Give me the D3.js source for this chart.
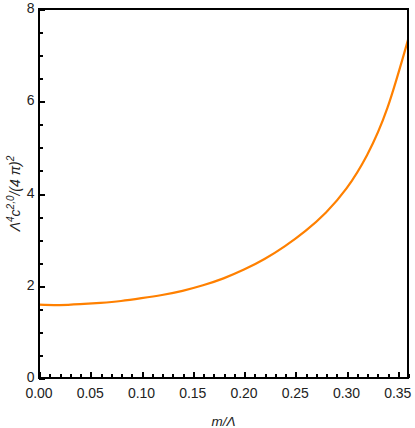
<!DOCTYPE html>
<html>
<head>
<meta charset="utf-8">
<script src="https://cdn.jsdelivr.net/npm/d3@7"></script>
<style>
  body { margin: 0; background: #fff; }
  text { font-family: "Liberation Sans", Arial, sans-serif; }
</style>
</head>
<body>
<svg id="plot" width="415" height="428"></svg>
<script>
// values
const mOverLambda = [0, 0.02, 0.04, 0.06, 0.08, 0.10, 0.12, 0.14, 0.16, 0.18, 0.20, 0.22, 0.24, 0.26, 0.28, 0.30, 0.32, 0.34, 0.36]
const c20 = [1.59, 1.58, 1.60, 1.63, 1.67, 1.73, 1.80, 1.89, 2.01, 2.16, 2.35, 2.58, 2.86, 3.19, 3.59, 4.11, 4.83, 5.86, 7.33]
const xMajor = [0, 0.05, 0.10, 0.15, 0.20, 0.25, 0.30, 0.35]
const yMajor = [0, 2, 4, 6, 8]

const svg = d3.select("#plot")
const pLeft = 39, pRight = 408, pTop = 9, pBottom = 378

const x = d3.scaleLinear().domain([0, 0.36]).range([pLeft, pRight])
const y = d3.scaleLinear().domain([0, 8]).range([pBottom, pTop])

// tick labels
svg.append("g").selectAll("text").data(xMajor).join("text")
    .attr("x", d => x(d)).attr("y", 398)
    .attr("text-anchor", "middle").attr("font-size", 14).attr("fill", "#222")
    .text(d => d.toFixed(2))
svg.append("g").selectAll("text").data(yMajor).join("text")
    .attr("x", 34.5).attr("y", d => y(d) + 4)
    .attr("text-anchor", "end").attr("font-size", 14).attr("fill", "#222")
    .text(d => d)

// curve
const pts = mOverLambda.map((m, i) => [m, c20[i]])
svg.append("path")
    .datum(pts)
    .attr("fill", "none")
    .attr("stroke", "#ff8000")
    .attr("stroke-width", 2.2)
    .attr("d", d3.line().x(d => x(d[0])).y(d => y(d[1])).curve(d3.curveNatural))

// frame
svg.append("rect")
    .attr("x", pLeft).attr("y", pTop)
    .attr("width", pRight - pLeft).attr("height", pBottom - pTop)
    .attr("fill", "none").attr("stroke", "#000").attr("stroke-width", 2)

// ticks, major every 0.05 / 2, minor every 0.01 / 0.5
const xMinor = d3.range(0, 37).map(i => i / 100)
const yMinor = d3.range(0, 17).map(i => i / 2)

svg.append("g").attr("shape-rendering", "crispEdges").selectAll("line").data(xMinor).join("line")
    .attr("x1", d => Math.round(x(d)) + 0.5).attr("x2", d => Math.round(x(d)) + 0.5)
    .attr("y1", pBottom).attr("y2", (d, i) => pBottom - (i % 5 === 0 ? 6 : 4))
    .attr("stroke", "#000").attr("stroke-width", 2)
svg.append("g").attr("shape-rendering", "crispEdges").selectAll("line").data(yMinor).join("line")
    .attr("y1", d => Math.round(y(d)) + 0.5).attr("y2", d => Math.round(y(d)) + 0.5)
    .attr("x1", pLeft).attr("x2", (d, i) => pLeft + (i % 4 === 0 ? 6 : 4))
    .attr("stroke", "#000").attr("stroke-width", 2)

// axis labels
svg.append("text")
    .attr("x", (pLeft + pRight) / 2).attr("y", 426)
    .attr("text-anchor", "middle").attr("font-size", 13.5).attr("font-style", "italic").attr("fill", "#222")
    .text("m/Λ")

const yl = svg.append("text")
    .attr("transform", `translate(20,${(pTop + pBottom) / 2}) rotate(-90)`)
    .attr("text-anchor", "middle").attr("font-size", 14).attr("font-style", "italic").attr("fill", "#222")
yl.append("tspan").text("Λ")
yl.append("tspan").attr("font-size", 10).attr("dy", -6).text("4")
yl.append("tspan").attr("dy", 6).text("c")
yl.append("tspan").attr("font-size", 10).attr("dy", -6).text("2,0")
yl.append("tspan").attr("dy", 6).text("/(4 π)")
yl.append("tspan").attr("font-size", 10).attr("dy", -6).text("2")
</script>
</body>
</html>
